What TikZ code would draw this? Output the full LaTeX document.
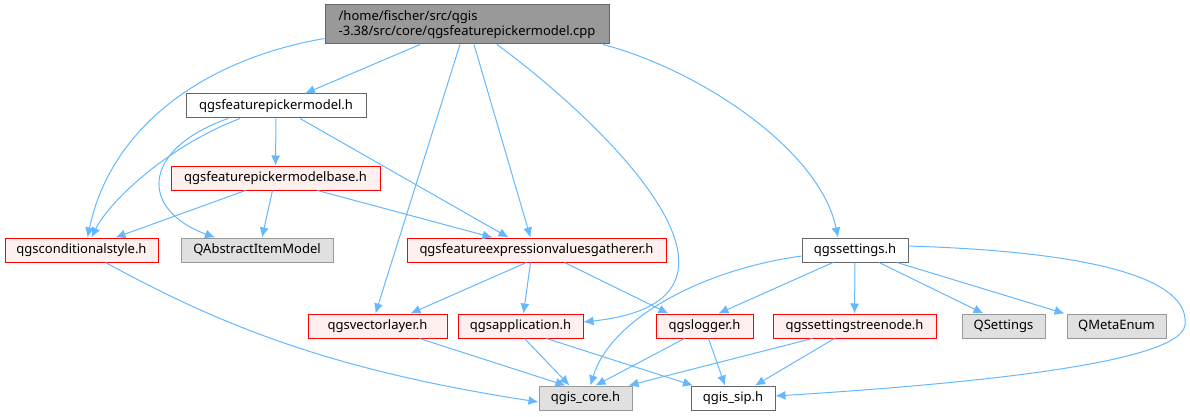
\documentclass[tikz,border=0pt]{standalone}
\usepackage{fontspec}
\setmainfont{Noto Sans}
\usetikzlibrary{arrows.meta}

\definecolor{edgeblue}{HTML}{63B8FF}
\definecolor{redline}{HTML}{FF0000}
\definecolor{redfill}{HTML}{FFF0F0}
\definecolor{grayfill}{HTML}{E0E0E0}
\definecolor{grayline}{HTML}{999999}
\definecolor{darkline}{HTML}{666666}

\tikzset{
  box/.style       = {draw, line width=1pt, minimum height=24pt, inner sep=0pt,
                      font=\fontsize{13}{15}\selectfont},
  hdrfile/.style   = {box, draw=redline, fill=redfill},
  sysfile/.style   = {box, draw=grayline, fill=grayfill},
  plainfile/.style = {box, draw=darkline, fill=white},
  mainfile/.style  = {box, draw=darkline, fill=grayline, align=left, minimum height=39pt},
  dep/.style       = {draw=edgeblue, line width=1pt, -{Latex[length=10pt,width=9pt]}}
}

\begin{document}
\begin{tikzpicture}[x=1pt, y=-1pt]
      \useasboundingbox (0,0) rectangle (1190,417);

      % files
      \node[mainfile, minimum width=284pt] at (467,24.5)   (main)     {/home/fischer/src/qgis\\-3.38/src/core/qgsfeaturepickermodel.cpp};
      \node[plainfile, minimum width=180pt] at (276,106)   (pickmodel) {qgsfeaturepickermodel.h};
      \node[hdrfile, minimum width=209pt]   at (275.5,178) (pickbase)  {qgsfeaturepickermodelbase.h};
      \node[hdrfile, minimum width=153pt]   at (81.5,250)  (condstyle) {qgsconditionalstyle.h};
      \node[sysfile, minimum width=152pt]   at (257,250)   (itemmodel) {QAbstractItemModel};
      \node[hdrfile, minimum width=259pt]   at (536.5,250) (gatherer)  {qgsfeatureexpressionvaluesgatherer.h};
      \node[plainfile, minimum width=106pt] at (855,250)   (settings)  {qgssettings.h};
      \node[hdrfile, minimum width=139pt]   at (377.5,326) (vlayer)    {qgsvectorlayer.h};
      \node[hdrfile, minimum width=125pt]   at (520.5,326) (app)       {qgsapplication.h};
      \node[hdrfile, minimum width=97pt]    at (704.5,326) (logger)    {qgslogger.h};
      \node[hdrfile, minimum width=163pt]   at (854.5,326) (treenode)  {qgssettingstreenode.h};
      \node[sysfile, minimum width=83pt]    at (1003.5,326) (qsettings) {QSettings};
      \node[sysfile, minimum width=99pt]    at (1116.5,326) (metaenum)  {QMetaEnum};
      \node[sysfile, minimum width=93pt]    at (585.5,398) (core)      {qgis\_core.h};
      \node[plainfile, minimum width=84pt]  at (733,398)   (sip)       {qgis\_sip.h};

      % includes of the main file
      \draw[dep] ([yshift=-14pt]main.west) .. controls (200,60) and (110,130) .. ([xshift=6pt]condstyle.north);
      \draw[dep] ([xshift=-47pt]main.south) -- ([xshift=29pt]pickmodel.north);
      \draw[dep] ([xshift=-7pt]main.south) -- ([xshift=-2pt]vlayer.north);
      \draw[dep] ([xshift=7pt]main.south) -- ([xshift=-6pt]gatherer.north);
      \draw[dep] ([xshift=30pt]main.south) .. controls (600,120) and (790,300) .. ([yshift=4pt]app.east);
      \draw[dep] ([xshift=136pt]main.south) .. controls (700,70) and (820,150) .. ([xshift=-17pt]settings.north);

      % qgsfeaturepickermodel.h
      \draw[dep] ([xshift=-48pt]pickmodel.south) .. controls (140,150) and (140,210) .. ([xshift=-42pt]itemmodel.north);
      \draw[dep] ([xshift=-36pt]pickmodel.south) .. controls (170,145) and (110,200) .. ([xshift=10pt]condstyle.north);
      \draw[dep] (pickmodel) -- (pickbase);
      \draw[dep] ([xshift=24pt]pickmodel.south) -- ([xshift=-28pt]gatherer.north);

      % qgsfeaturepickermodelbase.h
      \draw[dep] ([xshift=-30pt]pickbase.south) -- ([xshift=34pt]condstyle.north);
      \draw[dep] ([xshift=-3pt]pickbase.south) -- ([xshift=5pt]itemmodel.north);
      \draw[dep] ([xshift=42pt]pickbase.south) -- ([xshift=-44pt]gatherer.north);

      % second row
      \draw[dep] ([xshift=24pt]condstyle.south) .. controls (220,325) and (330,370) .. ([yshift=-4pt]core.west);
      \draw[dep] ([xshift=-10pt]gatherer.south) -- ([xshift=33pt]vlayer.north);
      \draw[dep] ([xshift=-6pt]gatherer.south) -- ([xshift=3pt]app.north);
      \draw[dep] ([xshift=28pt]gatherer.south) -- ([xshift=-36pt]logger.north);

      % qgssettings.h
      \draw[dep] ([yshift=-6pt]settings.west) .. controls (700,270) and (610,320) .. ([xshift=5pt]core.north);
      \draw[dep] ([xshift=-22pt]settings.south) -- ([xshift=14pt]logger.north);
      \draw[dep] (settings) -- (treenode);
      \draw[dep] ([xshift=24pt]settings.south) -- ([xshift=-20pt]qsettings.north);
      \draw[dep] ([xshift=42pt]settings.south) -- ([xshift=-52pt]metaenum.north);
      \draw[dep] ([yshift=4pt]settings.east) .. controls (1100,252) and (1190,280) .. (1185,325)
                 .. controls (1180,365) and (950,385) .. ([yshift=2pt]sip.east);

      % third row
      \draw[dep] ([xshift=42pt]vlayer.south) -- ([xshift=-20pt]core.north);
      \draw[dep] ([xshift=4pt]app.south) -- ([xshift=-16pt]core.north);
      \draw[dep] ([xshift=26pt]app.south) -- ([xshift=-40pt]sip.north);
      \draw[dep] ([xshift=-20pt]logger.south) -- ([xshift=10pt]core.north);
      \draw[dep] ([xshift=4pt]logger.south) -- ([xshift=-8pt]sip.north);
      \draw[dep] ([xshift=-42pt]treenode.south) -- ([xshift=-4pt]core.north east);
      \draw[dep] ([xshift=-20pt]treenode.south) -- ([xshift=22pt]sip.north);

    \end{tikzpicture}
\end{document}
